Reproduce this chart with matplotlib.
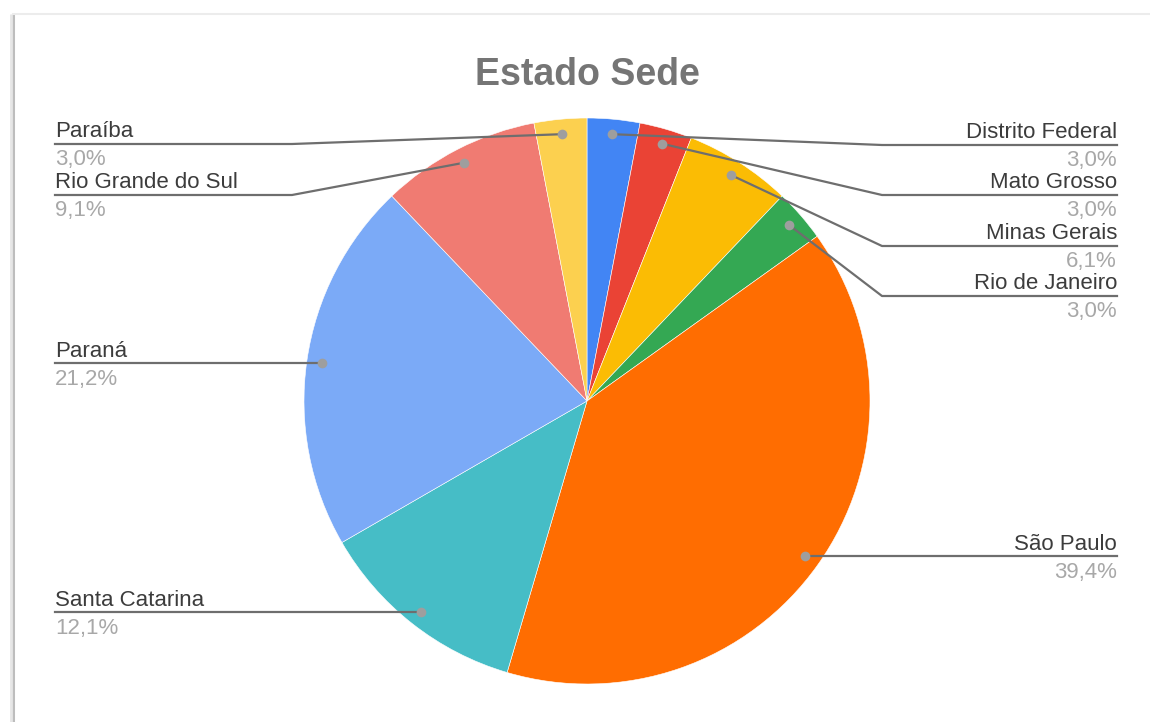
import numpy as np
import matplotlib
matplotlib.use("Agg")
import matplotlib.pyplot as plt

# dados do gráfico
estados = ["Distrito Federal", "Mato Grosso", "Minas Gerais", "Rio de Janeiro",
           "São Paulo", "Santa Catarina", "Paraná", "Rio Grande do Sul", "Paraíba"]
percentuais = [3.0, 3.0, 6.1, 3.0, 39.4, 12.1, 21.2, 9.1, 3.0]
cores = ["#4285F4", "#EA4335", "#FBBC04", "#34A853", "#FF6D01",
         "#46BDC6", "#7BAAF7", "#F07B72", "#FCD04F"]
titulo = "Estado Sede"

# lado e altura (px) de cada rótulo
lados = ["d", "d", "d", "d", "d", "e", "e", "e", "e"]
linha_y = [145, 195, 246, 296, 557, 613, 364, 195, 144]

W, H = 1150, 722
plt.rcParams['font.family'] = ['Liberation Sans', 'DejaVu Sans']

fig = plt.figure(figsize=(W / 100, H / 100), dpi=100)
ax = fig.add_axes([0, 0, 1, 1])


def py(y):
    # converte y de pixel (topo = 0) para coordenada do eixo
    return H - y


cx, cy, r = 587, 401, 283
wedges, _ = ax.pie(percentuais, colors=cores, startangle=90, counterclock=False,
                   center=(cx, py(cy)), radius=r,
                   wedgeprops=dict(linewidth=0.4, edgecolor="white"))

ax.set_xlim(0, W)
ax.set_ylim(0, H)
ax.set_aspect("equal")
ax.axis("off")

# moldura do cartão
ax.plot([13, 13], [py(14), 0], color="#bdbdbd", lw=2.2, solid_capstyle="butt")
ax.plot([10.5, 10.5], [py(14), 0], color="#e6e6e6", lw=2, solid_capstyle="butt")
ax.plot([13, W], [py(14), py(14)], color="#ececec", lw=1.5)

ax.text(587, py(75), titulo, ha="center", va="center", fontsize=27,
        fontweight="bold", color="#757575")

total = sum(percentuais)
acum = 0.0
for nome, v, lado, ly in zip(estados, percentuais, lados, linha_y):
    meio = (acum + v / 2) / total * 360.0
    acum += v
    ang = np.deg2rad(meio)
    dx = cx + 0.947 * r * np.sin(ang)
    dy = cy - 0.947 * r * np.cos(ang)

    if lado == "d":
        x_txt, x_dobra, ha = 1117, 882, "right"
    else:
        x_txt, x_dobra, ha = 55, 292, "left"

    if abs(dy - ly) < 8:
        xs = [x_txt, dx]
        ys = [dy, dy]
    else:
        xs = [x_txt, x_dobra, dx]
        ys = [ly, ly, dy]
    ax.plot(xs, [py(y) for y in ys], color="#6e6e6e", lw=1.6, zorder=3)
    ax.plot(dx, py(dy), "o", ms=7, color="#9e9e9e", mec="none", zorder=4)

    ax.text(x_txt, py(ly - 7), nome, ha=ha, va="baseline", fontsize=16,
            color="#3c3c3c")
    rotulo = f"{v:.1f}%".replace(".", ",")
    ax.text(x_txt, py(ly + 5), rotulo, ha=ha, va="top", fontsize=16,
            color="#a8a8a8")

fig.savefig("out.png", dpi=100)
